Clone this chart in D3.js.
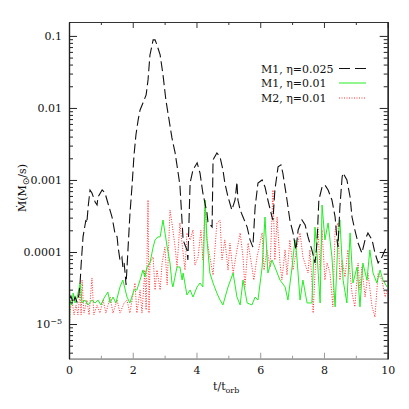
<!DOCTYPE html>
<html>
<head>
<meta charset="utf-8">
<script src="https://cdn.jsdelivr.net/npm/d3@7"></script>
<style>
body{margin:0;background:#fff}
svg text{font-family:"DejaVu Serif",serif;font-size:11px;fill:#111}
</style>
</head>
<body>
<svg id="chart" width="409" height="409"></svg>
<script>
// M1, eta=0.025 (dashed black)
var tM1a = [0.00,0.06,0.13,0.19,0.25,0.31,0.35,0.38,0.44,0.53,0.56,0.60,0.66,0.72,0.82,0.88,0.91,1.04,1.13,1.22,1.35,1.44,1.51,1.54,1.60,1.66,1.69,1.73,1.76,1.79,1.85,1.91,1.98,2.04,2.10,2.17,2.23,2.32,2.42,2.48,2.54,2.64,2.70,2.76,2.86,2.95,3.04,3.14,3.23,3.33,3.42,3.48,3.55,3.58,3.64,3.70,3.73,3.80,3.89,4.02,4.11,4.20,4.33,4.36,4.49,4.52,4.64,4.74,4.83,4.89,4.99,5.11,5.21,5.27,5.30,5.37,5.46,5.59,5.68,5.77,5.84,5.93,6.06,6.15,6.24,6.37,6.40,6.46,6.56,6.65,6.71,6.84,6.93,7.03,7.12,7.19,7.31,7.41,7.50,7.62,7.72,7.78,7.84,7.94,8.03,8.13,8.25,8.35,8.41,8.44,8.50,8.57,8.60,8.72,8.82,8.88,8.97,9.07,9.19,9.29,9.38,9.51,9.60,9.70,9.82,9.92,9.98];
var mM1a = [2.15e-5,2.45e-5,1.96e-5,2.37e-5,2.02e-5,2.53e-5,3.83e-5,6.6e-5,1.62e-4,2.78e-4,2.53e-4,4.21e-4,7.26e-4,6.6e-4,4.95e-4,4.49e-4,5.8e-4,7.26e-4,6.6e-4,4.79e-4,3.06e-4,1.84e-4,1.62e-4,1.17e-4,7.74e-5,8.52e-5,6.19e-5,7.03e-5,5.11e-5,3.48e-5,1.07e-4,3.27e-4,8.52e-4,2.22e-3,4.21e-3,6.81e-3,9.38e-3,0.0117,0.0152,0.0245,0.0544,0.088,0.088,0.075,0.0544,0.0287,0.0129,6.81e-3,3.83e-3,2.37e-3,1.29e-3,8.52e-4,2.53e-4,1.47e-4,1.25e-4,1.07e-4,7.74e-5,9.09e-4,1.38e-3,1.73e-3,1.25e-3,6.6e-4,3.48e-4,2.61e-4,2.22e-4,1.90e-3,2.37e-3,2.08e-3,1.38e-3,9.09e-4,5.8e-4,3.83e-4,5.27e-4,9.38e-4,5.27e-4,3.83e-4,3.06e-4,2.22e-4,1.47e-4,1.17e-4,4.21e-4,9.09e-4,1.0e-3,7.99e-4,5.27e-4,3.06e-4,2.78e-4,7.26e-4,1.52e-3,1.62e-3,1.25e-3,5.27e-4,2.78e-4,1.84e-4,1.07e-4,2.02e-4,2.78e-4,2.37e-4,1.62e-4,1.07e-4,7.03e-5,1.33e-4,5.27e-4,7.99e-4,8.52e-4,7.26e-4,5.27e-4,3.06e-4,1.47e-4,1.17e-4,4.21e-4,1.10e-3,1.25e-3,1.0e-3,5.8e-4,3.06e-4,2.02e-4,1.33e-4,9.69e-5,1.47e-4,1.84e-4,1.47e-4,9.69e-5,7.03e-5,8.52e-5,1.07e-4,1.17e-4];

// M1, eta=0.01 (green)
var tM1b = [0.00,0.03,0.09,0.13,0.19,0.25,0.35,0.41,0.50,0.60,0.72,0.82,0.91,1.00,1.10,1.22,1.29,1.38,1.47,1.60,1.69,1.82,1.91,2.04,2.13,2.23,2.32,2.38,2.45,2.54,2.64,2.70,2.79,2.86,2.95,3.08,3.17,3.23,3.26,3.39,3.48,3.55,3.58,3.70,3.80,3.89,4.02,4.11,4.20,4.27,4.33,4.42,4.52,4.64,4.74,4.83,4.99,5.15,5.27,5.37,5.46,5.59,5.74,5.84,5.93,6.06,6.15,6.24,6.37,6.46,6.62,6.78,6.87,7.00,7.09,7.15,7.25,7.34,7.47,7.62,7.72,7.78,7.88,7.94,8.03,8.13,8.25,8.35,8.44,8.50,8.60,8.72,8.82,8.91,9.04,9.13,9.22,9.35,9.44,9.54,9.66,9.76,9.85,9.98];
var mM1b = [3.7e-6,2.15e-5,1.84e-5,2.69e-5,1.96e-5,2.29e-5,3.71e-5,1.96e-5,2.15e-5,1.84e-5,2.15e-5,1.96e-5,2.15e-5,1.84e-5,2.29e-5,2.78e-5,1.96e-5,2.37e-5,1.96e-5,3.27e-5,4.08e-5,2.37e-5,1.96e-5,2.97e-5,2.97e-5,4.08e-5,5.62e-5,4.49e-5,6.19e-5,7.03e-5,1.17e-4,1.47e-4,1.62e-4,1.62e-4,2.78e-4,1.17e-4,7.03e-5,3.71e-5,3.27e-5,6.19e-5,6.19e-5,4.08e-5,5.11e-5,2.53e-5,2.97e-5,2.37e-5,3.27e-5,3.71e-5,3.27e-5,5.27e-4,1.47e-4,5.11e-5,3.71e-5,2.69e-5,2.15e-5,1.84e-5,3.27e-5,5.11e-5,2.37e-5,1.84e-5,4.08e-5,1.96e-5,1.84e-5,2.37e-5,2.15e-5,6.19e-5,3.06e-4,5.11e-5,7.74e-5,6.19e-5,4.08e-5,3.27e-5,2.15e-5,6.19e-5,1.47e-4,8.52e-5,2.15e-5,4.08e-5,1.96e-5,1.96e-5,2.22e-4,9.69e-5,1.96e-5,4.49e-4,1.47e-4,2.53e-4,8.52e-5,1.73e-5,1.47e-4,2.78e-4,4.08e-5,1.96e-5,1.84e-4,3.71e-5,6.19e-5,1.73e-5,7.03e-5,4.08e-5,1.07e-4,5.11e-5,3.71e-5,5.62e-5,4.08e-5,3.27e-5];

// M2, eta=0.01 (red dotted)
var tM2 = [0.00,0.03,0.09,0.16,0.22,0.28,0.35,0.38,0.41,0.47,0.56,0.63,0.72,0.78,0.88,0.97,1.07,1.16,1.29,1.38,1.51,1.60,1.73,1.82,1.91,2.07,2.13,2.23,2.29,2.38,2.42,2.48,2.51,2.54,2.64,2.70,2.76,2.86,2.92,3.01,3.08,3.17,3.23,3.33,3.39,3.48,3.58,3.64,3.70,3.80,3.89,3.95,4.05,4.14,4.20,4.27,4.33,4.42,4.52,4.64,4.74,4.80,4.89,4.99,5.05,5.15,5.27,5.37,5.46,5.52,5.62,5.74,5.80,5.90,6.06,6.12,6.21,6.31,6.40,6.46,6.53,6.62,6.68,6.78,6.84,6.93,7.03,7.15,7.25,7.34,7.50,7.56,7.62,7.66,7.72,7.81,7.88,7.94,8.03,8.10,8.19,8.28,8.35,8.44,8.50,8.57,8.66,8.75,8.88,8.97,9.07,9.13,9.19,9.29,9.38,9.51,9.60,9.70,9.82,9.92,9.98];
var mM2 = [4.35e-6,1.42e-5,2.15e-5,1.34e-5,1.84e-5,1.34e-5,2.97e-5,1.34e-5,4.08e-5,1.42e-5,2.15e-5,1.34e-5,4.35e-5,1.34e-5,1.84e-5,1.42e-5,2.15e-5,1.42e-5,2.37e-5,1.42e-5,2.15e-5,1.42e-5,1.96e-5,2.15e-5,1.42e-5,3.71e-5,1.42e-5,2.97e-5,1.42e-5,5.62e-5,1.57e-5,5.27e-4,1.42e-5,7.03e-5,8.52e-5,2.97e-5,5.62e-5,2.97e-5,7.03e-5,1.17e-4,3.48e-5,3.83e-4,2.53e-4,1.17e-4,6.19e-5,2.53e-4,9.69e-5,5.62e-5,1.84e-4,1.47e-4,2.02e-4,6.6e-5,8.52e-5,2.02e-4,7.74e-5,5.27e-4,1.47e-4,8.52e-5,4.79e-5,2.53e-4,2.78e-4,7.74e-5,1.47e-4,5.62e-5,1.33e-4,5.11e-5,1.07e-4,1.84e-4,8.52e-5,3.27e-5,1.33e-4,6.19e-5,4.08e-5,8.52e-5,1.84e-4,5.62e-5,1.07e-4,6.19e-5,7.26e-4,7.74e-5,3.06e-4,7.03e-5,4.08e-5,1.07e-4,4.79e-5,1.47e-4,5.62e-5,1.17e-4,1.84e-4,8.52e-5,5.11e-5,1.07e-4,4.08e-5,1.42e-5,5.11e-5,2.22e-4,5.62e-5,2.02e-4,4.08e-5,7.03e-5,5.11e-5,1.73e-5,2.02e-4,2.53e-4,4.08e-5,7.74e-5,4.49e-5,1.07e-4,2.69e-5,1.73e-5,7.03e-5,2.97e-5,6.19e-5,2.37e-5,5.11e-5,1.73e-5,1.25e-5,5.11e-5,4.08e-5,2.37e-5,2.97e-5];

var xMajor = [0,2,4,6,8,10];
var xMinor = [1,3,5,7,9];
var yDecades = [1e-5,1e-4,1e-3,1e-2,1e-1];
var yLabels = ["10-5","0.0001","0.001","0.01","0.1"];
var legendNames = ["M1, \u03b7=0.025","M1, \u03b7=0.01","M2, \u03b7=0.01"];

var svg = d3.select("#chart");
var pLeft = 69, pRight = 387.7, pTop = 22, pBottom = 358.7;

var x = d3.scaleLinear().domain([0,10]).range([pLeft,pRight]);
var y = d3.scaleLog().domain([3.3e-6,0.156]).range([pBottom,pTop]);

// minor log ticks
var yMinor = [];
[1e-6,1e-5,1e-4,1e-3,1e-2,1e-1].forEach(function(d){
  for(var k=2;k<10;k++){
    var v = d*k;
    if(v>=y.domain()[0] && v<=y.domain()[1]) yMinor.push(v);
  }
});

var series = [
  {t:tM1a, m:mM1a, color:"#111", width:1.1, dash:"10,4"},
  {t:tM1b, m:mM1b, color:"#22ee22", width:1, dash:null},
  {t:tM2,  m:mM2,  color:"#ff3030", width:1, dash:"1,1.5"}
];

svg.append("clipPath").attr("id","clip")
  .append("rect").attr("x",pLeft).attr("y",pTop).attr("width",pRight-pLeft).attr("height",pBottom-pTop);

var line = d3.line()
  .x(function(d){ return x(d[0]); })
  .y(function(d){ return y(d[1]); });

// draw order: red, green, black on top
[2,1,0].forEach(function(i){
  var s = series[i];
  var pts = s.t.map(function(t,j){ return [t, s.m[j]]; });
  svg.append("path")
    .attr("clip-path","url(#clip)")
    .attr("d", line(pts))
    .attr("fill","none")
    .attr("stroke", s.color)
    .attr("stroke-width", s.width)
    .attr("stroke-dasharray", s.dash);
});

function styleAxis(g, col){
  g.selectAll("path").attr("stroke",col).attr("stroke-width",1.2);
  g.selectAll("line").attr("stroke",col);
  g.selectAll("text").attr("font-family",null).attr("font-size",null).attr("fill","#111");
}

// x axes
var gx = svg.append("g").attr("transform","translate(0,"+pBottom+")")
  .call(d3.axisBottom(x).tickValues(xMajor).tickSize(-6).tickSizeOuter(0).tickPadding(8).tickFormat(d3.format("d")));
styleAxis(gx,"#999");
var gxm = svg.append("g").attr("transform","translate(0,"+pBottom+")")
  .call(d3.axisBottom(x).tickValues(xMinor).tickSize(-3).tickSizeOuter(0).tickFormat(""));
styleAxis(gxm,"#999");
var gxt = svg.append("g").attr("transform","translate(0,"+pTop+")")
  .call(d3.axisTop(x).tickValues(xMajor).tickSize(-6).tickSizeOuter(0).tickFormat(""));
styleAxis(gxt,"#333");
var gxtm = svg.append("g").attr("transform","translate(0,"+pTop+")")
  .call(d3.axisTop(x).tickValues(xMinor).tickSize(-3).tickSizeOuter(0).tickFormat(""));
styleAxis(gxtm,"#333");

// y axes
var gy = svg.append("g").attr("transform","translate("+pLeft+",0)")
  .call(d3.axisLeft(y).tickValues(yDecades).tickSize(-8).tickSizeOuter(0).tickPadding(7)
    .tickFormat(function(d,i){ return yLabels[i]; }));
styleAxis(gy,"#222");
gy.selectAll(".tick text").filter(function(d){ return d===1e-5; })
  .text(null)
  .call(function(t){
    t.append("tspan").text("10");
    t.append("tspan").attr("dy","-0.45em").attr("font-size","8px").text("\u22125");
  });
var gym = svg.append("g").attr("transform","translate("+pLeft+",0)")
  .call(d3.axisLeft(y).tickValues(yMinor).tickSize(-4).tickSizeOuter(0).tickFormat(""));
styleAxis(gym,"#222");
var gyr = svg.append("g").attr("transform","translate("+pRight+",0)")
  .call(d3.axisRight(y).tickValues(yDecades).tickSize(-8).tickSizeOuter(0).tickFormat(""));
styleAxis(gyr,"#222");
var gyrm = svg.append("g").attr("transform","translate("+pRight+",0)")
  .call(d3.axisRight(y).tickValues(yMinor).tickSize(-4).tickSizeOuter(0).tickFormat(""));
styleAxis(gyrm,"#222");

// axis titles
var xt = svg.append("text").attr("x",213).attr("y",390);
xt.append("tspan").text("t/t");
xt.append("tspan").attr("dy","3").attr("font-size","8px").text("orb");

var yt = svg.append("text").attr("transform","translate(26,188) rotate(-90)").attr("text-anchor","middle");
yt.append("tspan").text("\u1e40(M");
yt.append("tspan").attr("dy","3").attr("font-size","9px").attr("font-family","DejaVu Sans").text("\u2299");
yt.append("tspan").attr("dy","-3").text("/s)");

// legend
var legY = [68.5,83,98];
legendNames.forEach(function(name,i){
  svg.append("text").attr("x",261).attr("y",legY[i]+4).text(name);
  svg.append("line")
    .attr("x1",339).attr("x2",366).attr("y1",legY[i]).attr("y2",legY[i])
    .attr("stroke",series[i].color)
    .attr("stroke-width",series[i].width)
    .attr("stroke-dasharray", i===0 ? "11,5" : series[i].dash);
});
</script>
</body>
</html>
